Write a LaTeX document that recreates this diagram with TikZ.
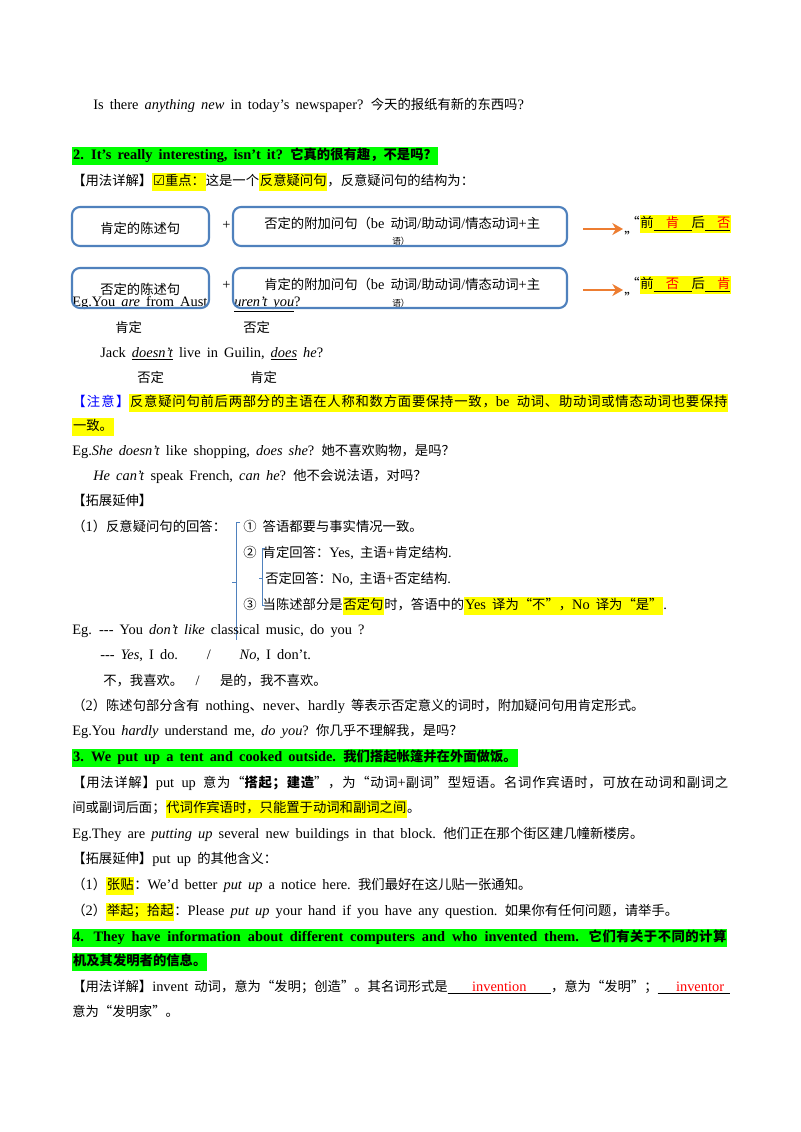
\documentclass[tikz,border=0pt]{standalone}
\usetikzlibrary{arrows.meta}
\usepackage{fontspec}
\setmainfont{Liberation Serif}[Scale=1.08,WordSpace={1.7,1.2,0.6}]
\newfontfamily\cjk{Noto Sans CJK SC}
\newfontfamily\dejavu{DejaVu Sans}
\makeatletter
\XeTeXinterchartokenstate=1
\newXeTeXintercharclass\cjkclass
\def\setcls#1#2{\count@=#1\relax\loop\XeTeXcharclass\count@=\cjkclass\ifnum\count@<#2\advance\count@ by 1\repeat}
\setcls{"4E00}{"9FFF}
\setcls{"3000}{"303F}
\setcls{"FF00}{"FFEF}
\setcls{"2460}{"2473}
\XeTeXcharclass"201C=\cjkclass
\XeTeXcharclass"201D=\cjkclass
\makeatother
\XeTeXinterchartoks 0 \cjkclass = {\cjk}
\XeTeXinterchartoks 4095 \cjkclass = {\cjk}
\XeTeXinterchartoks \cjkclass 0 = {\rmfamily}
\XeTeXinterchartoks \cjkclass 4095 = {\rmfamily}
\XeTeXinterchartoks \cjkclass \cjkclass = {\hskip0pt plus 1pt\relax}
\definecolor{hly}{RGB}{255,255,0}
\definecolor{hlg}{RGB}{0,255,0}
\definecolor{bbox}{RGB}{79,129,189}
\definecolor{arr}{RGB}{237,125,49}
\newcommand{\hl}[1]{{\setlength{\fboxsep}{0.6pt}\colorbox{hly}{\strut #1}}}
\newcommand{\hg}[1]{{\setlength{\fboxsep}{0.6pt}\colorbox{hlg}{\strut #1}}}
\begin{document}
\begin{tikzpicture}[x=0.75pt,y=-0.75pt,
  t/.style={anchor=base west,inner sep=0pt,font=\fontsize{10pt}{12pt}\selectfont},
  bx/.style={draw=bbox,line width=1.6pt,rounded corners=6pt},
  ar/.style={draw=arr,line width=2.2pt,-{Stealth[length=8pt,width=9pt]}}]
\useasboundingbox (0,0) rectangle (800,1132);
\fill[white] (0,0) rectangle (800,1132);
\node[t] (l1) at (93,109) {Is there \textit{anything new} in today's newspaper? 今天的报纸有新的东西吗?};
\node[t] (h2) at (72,159) {\hg{\bfseries 2. It's really interesting, isn't it? 它真的很有趣，不是吗？}};
\node[t] (u1) at (72,185) {【用法详解】\hl{{\dejavu ☑}重点：}这是一个\hl{反意疑问句}，反意疑问句的结构为：};
% boxes row 1
\node[t] (b1t) at (100,233) {肯定的陈述句};
\node[t] (p1) at (222,229) {+};
\node[t] (b2t) at (264,228) {否定的附加问句（be 动词/助动词/情态动词+主};
\node[t,font=\fontsize{6.5pt}{7pt}\selectfont] (b2s) at (392,244) {语）};
\draw[bx] (72,207) rectangle (209,246);
\draw[bx] (233,207) rectangle (567,246);
\coordinate (a1s) at (583,229);
\coordinate (a1e) at (623,229);
\draw[ar] (a1s) -- (a1e);
\node[t] (q1) at (626,227) {“\hl{前\underline{\ \ \textcolor{red}{肯}\ \ }后\underline{\ \ \textcolor{red}{否}}}};
\node[t] (q1b) at (624,242) {”};
% row 2
\node[t] (e1) at (72,306) {Eg.You \underline{\textit{are}} from Aust};
\node[t] (e1b) at (234,306) {\underline{\textit{uren't you}}?};
\node[t] (b3t) at (100,294) {否定的陈述句};
\node[t] (p2) at (222,289) {+};
\node[t] (b4t) at (264,289) {肯定的附加问句（be 动词/助动词/情态动词+主};
\node[t,font=\fontsize{6.5pt}{7pt}\selectfont] (b4s) at (392,306) {语）};
\draw[bx] (72,268) rectangle (209,308);
\draw[bx] (233,268) rectangle (567,308);
\coordinate (a2s) at (583,290);
\coordinate (a2e) at (623,290);
\draw[ar] (a2s) -- (a2e);
\node[t] (q2) at (626,288) {“\hl{前\underline{\ \ \textcolor{red}{否}\ \ }后\underline{\ \ \textcolor{red}{肯}}}};
\node[t] (q2b) at (624,303) {”};
\node[t] (k1) at (115,332) {肯定};
\node[t] (k2) at (243,332) {否定};
\node[t] (j1) at (100,357) {Jack \underline{\textit{doesn't}} live in Guilin, \underline{\textit{does}} \textit{he}?};
\node[t] (k3) at (137,382) {否定};
\node[t] (k4) at (250,382) {肯定};
\node[t] (n1) at (72,406) {\hbox to 492pt{\textcolor{blue}{【注意】}{\setlength{\fboxsep}{0.6pt}\colorbox{hly}{\strut\hbox to 448pt{反意疑问句前后两部分的主语在人称和数方面要保持一致，be 动词、助动词或情态动词也要保持}}}}};
\node[t] (n2) at (72,430) {\hl{一致。}};
\node[t] (e2) at (72,455) {Eg.\textit{She doesn't} like shopping, \textit{does she}? 她不喜欢购物，是吗？};
\node[t] (e3) at (93,480) {\textit{He can't} speak French, \textit{can he}? 他不会说法语，对吗？};
\node[t] (tz) at (72,505) {【拓展延伸】};
\node[t] (r1) at (72,531) {（1）反意疑问句的回答：};
\node[t] (r2) at (243,531) {① 答语都要与事实情况一致。};
\node[t] (r3) at (243,557) {② 肯定回答：Yes, 主语+肯定结构.};
\node[t] (r4) at (265,583) {否定回答：No, 主语+否定结构.};
\node[t] (r5) at (243,609) {③ 当陈述部分是\hl{否定句}时，答语中的\hl{Yes 译为“不”，No 译为“是”}.};
\coordinate (bA) at (240,522);
\coordinate (bB) at (236,640);
\draw[bbox,line width=0.6pt] (bA) -- ++(-4,0) -- (bB);
\draw[bbox,line width=0.6pt] (232,582) -- (236,582);
\coordinate (bC) at (265,548);
\draw[bbox,line width=0.6pt] (bC) -- ++(-3,0) -- (262,605) -- (265,605);
\draw[bbox,line width=0.6pt] (262,578) -- (259,578);
\node[t] (e4) at (72,634) {Eg. -{}-{}- You \textit{don't like} classical music, do you ?};
\node[t] (e5) at (100,659) {-{}-{}- \textit{Yes}, I do.\qquad /\qquad \textit{No}, I don't.};
\node[t] (e6) at (103,685) {\textit{不}，我喜欢。\ \ /\quad\ \textit{是的}，我不喜欢。};
\node[t] (r6) at (72,710) {（2）陈述句部分含有 nothing、never、hardly 等表示否定意义的词时，附加疑问句用肯定形式。};
\node[t] (e7) at (72,735) {Eg.You \textit{hardly} understand me, \textit{do you}? 你几乎不理解我，是吗？};
\node[t] (h3) at (72,761) {\hg{\bfseries 3. We put up a tent and cooked outside. 我们搭起帐篷并在外面做饭。}};
\node[t] (u3) at (72,787) {\hbox to 492pt{【用法详解】put up 意为“\textbf{搭起；建造}”，为“动词+副词”型短语。名词作宾语时，可放在动词和副词之}};
\node[t] (u3b) at (72,812) {间或副词后面；\hl{代词作宾语时，只能置于动词和副词之间}。};
\node[t] (e8) at (72,838) {Eg.They are \textit{putting up} several new buildings in that block. 他们正在那个街区建几幢新楼房。};
\node[t] (t3) at (72,863) {【拓展延伸】put up 的其他含义：};
\node[t] (p3a) at (72,889) {（1）\hl{张贴}：We'd better \textit{put up} a notice here. 我们最好在这儿贴一张通知。};
\node[t] (p3b) at (72,915) {（2）\hl{举起；拾起}：Please \textit{put up} your hand if you have any question. 如果你有任何问题，请举手。};
\node[t] (h4) at (72,941) {{\setlength{\fboxsep}{0.6pt}\colorbox{hlg}{\strut\hbox to 490pt{\bfseries 4. They have information about different computers and who invented them. 它们有关于不同的计算}}}};
\node[t] (h4b) at (72,965) {\hg{\bfseries 机及其发明者的信息。}};
\node[t] (u4) at (72,991) {【用法详解】invent 动词，意为“发明；创造”。其名词形式是\underline{\ \ \ \ \textcolor{red}{invention}\ \ \ \ }，意为“发明”；\underline{\ \ \ \textcolor{red}{inventor}\ }};
\node[t] (u4b) at (72,1016) {意为“发明家”。};
\end{tikzpicture}
\end{document}
